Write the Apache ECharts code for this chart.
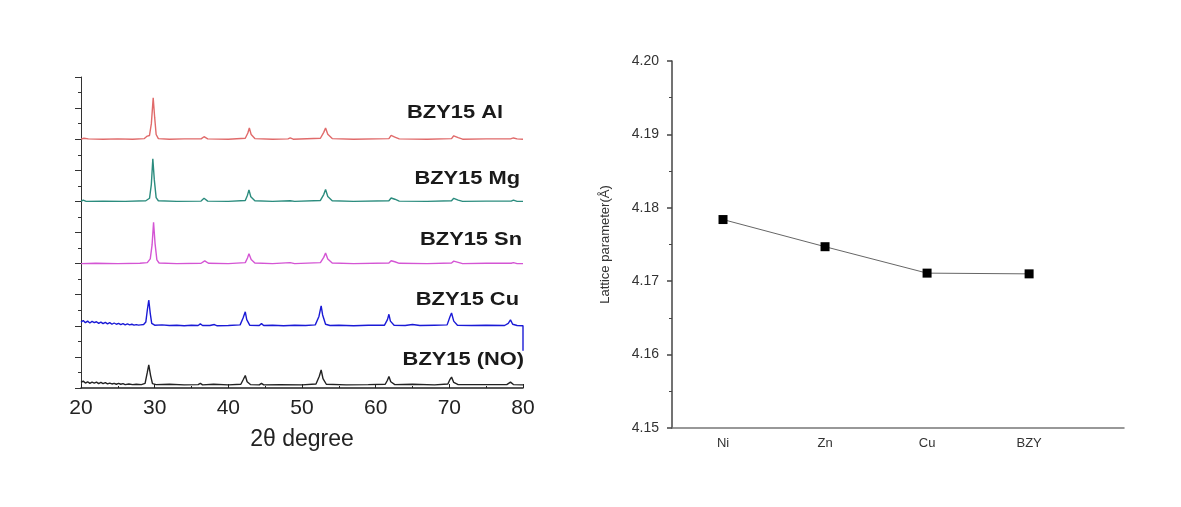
<!DOCTYPE html>
<html>
<head>
<meta charset="utf-8">
<script src="https://cdn.jsdelivr.net/npm/echarts@6/dist/echarts.min.js"></script>
<style>
  html, body { margin: 0; padding: 0; background: #fff; }
  #main { width: 1181px; height: 507px; }
</style>
</head>
<body>
<div id="main"></div>
<script>
// ---- XRD patterns (2theta, intensity above own baseline) ----
const sampleNames = ['BZY15 Al', 'BZY15 Mg', 'BZY15 Sn', 'BZY15 Cu', 'BZY15 (NO)']
const sampleColors = ['#e06a6a', '#2b8c7e', '#d455d4', '#1a1ad6', '#222222']
const offsets = [8, 6, 4, 2, 0.1]

const xrdAl = [[20,0],[20.4,0.03],[21,0.01],[23,0],[25,0.01],[27,0],[28.6,0.02],[29.0,0.1],[29.3,0.12],
  [29.55,0.5],[29.8,1.33],[30.0,0.7],[30.2,0.15],[30.5,0.02],[32,0],[34,0.01],[36.3,0.01],[36.7,0.08],[37.2,0.01],
  [40,0],[42.3,0.03],[42.65,0.2],[42.85,0.36],[43.1,0.15],[43.6,0.02],[46,0],[48.1,0.01],[48.4,0.04],[48.8,0],
  [52.5,0.03],[52.95,0.22],[53.2,0.36],[53.5,0.16],[54.1,0.02],[57,0],[61.8,0.02],[62.1,0.12],[62.3,0.16],[62.6,0.07],
  [63.2,0.01],[67,0],[70.3,0.02],[70.6,0.11],[70.8,0.14],[71.2,0.05],[71.8,0],[75,0.01],[78.3,0.01],[78.7,0.04],[79.2,0.01],[80,0]]

const xrdMg = [[20,0],[20.3,0.04],[20.7,0],[23,0.01],[26,0],[28.8,0.02],[29.3,0.1],[29.55,0.55],[29.75,1.37],
  [29.95,0.7],[30.2,0.12],[30.5,0.02],[33,0],[36.3,0.01],[36.7,0.1],[37.2,0.01],[40,0],[42.3,0.03],[42.6,0.2],
  [42.8,0.37],[43.05,0.15],[43.6,0.02],[46,0],[48.4,0.02],[49,0],[52.5,0.03],[52.95,0.22],[53.2,0.38],[53.5,0.16],
  [54.1,0.02],[57,0],[61.8,0.02],[62.1,0.11],[62.3,0.16],[62.6,0.07],[63.2,0.01],[67,0],[70.3,0.02],[70.6,0.1],
  [70.8,0.13],[71.2,0.04],[71.8,0],[75,0.01],[78.4,0.01],[78.7,0.04],[79.2,0],[80,0]]

const xrdSn = [[20,0],[22,0.01],[25,0],[28,0.01],[29.0,0.03],[29.4,0.15],[29.65,0.6],[29.85,1.33],[30.05,0.65],
  [30.3,0.12],[30.6,0.02],[33,0],[36.3,0.01],[36.8,0.09],[37.3,0.01],[40,0],[42.3,0.03],[42.6,0.18],[42.8,0.32],
  [43.1,0.13],[43.6,0.02],[46,0],[48.4,0.03],[49,0],[52.5,0.03],[52.95,0.2],[53.2,0.34],[53.5,0.15],[54.1,0.02],
  [57,0],[61.8,0.02],[62.1,0.09],[62.3,0.13],[62.6,0.06],[63.2,0.01],[67,0],[70.3,0.02],[70.6,0.08],[70.8,0.1],
  [71.2,0.04],[71.8,0],[75,0.01],[78.4,0.01],[78.7,0.03],[79.2,0],[80,0]]

const xrdCu = [[20,0.12],[20.3,0.17],[20.6,0.1],[20.9,0.15],[21.2,0.09],[21.5,0.14],[21.8,0.1],[22.1,0.13],
  [22.4,0.08],[22.7,0.12],[23,0.07],[23.3,0.11],[23.6,0.06],[23.9,0.1],[24.2,0.05],[24.5,0.09],[24.8,0.05],
  [25.1,0.08],[25.4,0.04],[25.7,0.07],[26,0.03],[26.3,0.06],[26.6,0.03],[26.9,0.05],[27.2,0.02],[27.5,0.04],
  [27.8,0.02],[28.1,0.03],[28.5,0.04],[28.8,0.12],[29.0,0.5],[29.2,0.83],[29.4,0.4],[29.6,0.08],[30,0.02],
  [31,0.03],[32,0.01],[33,0.02],[34,0],[35,0.02],[35.9,0.01],[36.2,0.06],[36.5,0.01],[37.5,0.01],[38.1,0.04],
  [38.5,0],[40,0.01],[41.6,0.03],[42.0,0.25],[42.3,0.45],[42.5,0.2],[42.9,0.02],[44.2,0.01],[44.5,0.07],[44.8,0.01],
  [46,0.02],[47.5,0],[49,0.02],[50.5,0.01],[51.8,0.03],[52.3,0.3],[52.6,0.64],[52.8,0.35],[53.2,0.05],[53.8,0.01],
  [55,0.02],[57,0],[59,0.02],[61.2,0.02],[61.6,0.2],[61.8,0.37],[62.0,0.15],[62.5,0.02],[64,0.01],[65,0.04],
  [66,0.01],[68,0.02],[69.7,0.03],[70.1,0.3],[70.3,0.41],[70.6,0.15],[71.1,0.02],[73,0.01],[75,0.02],[77.5,0.01],
  [78.0,0.08],[78.3,0.19],[78.6,0.05],[79.2,0.01],[80,0],[80,-0.8]]

const xrdNO = [[20,0.08],[20.3,0.12],[20.6,0.06],[20.9,0.1],[21.2,0.05],[21.5,0.09],[21.8,0.06],[22.1,0.09],
  [22.4,0.04],[22.7,0.08],[23,0.04],[23.3,0.07],[23.6,0.03],[23.9,0.06],[24.2,0.03],[24.5,0.05],[24.8,0.02],
  [25.1,0.05],[25.4,0.02],[25.7,0.04],[26,0.01],[26.5,0.03],[27,0.01],[27.5,0.02],[28.2,0.01],[28.7,0.05],
  [29.0,0.4],[29.2,0.64],[29.45,0.3],[29.7,0.04],[30.2,0.01],[32,0.02],[34,0],[35.9,0.01],[36.2,0.05],[36.5,0],
  [38,0.02],[40,0],[41.7,0.02],[42.05,0.18],[42.3,0.3],[42.55,0.1],[43,0.01],[44.2,0],[44.5,0.05],[44.8,0],
  [47,0.01],[50,0],[51.9,0.03],[52.35,0.28],[52.6,0.48],[52.85,0.2],[53.3,0.02],[56,0],[59,0.01],[61.3,0.02],
  [61.6,0.15],[61.8,0.27],[62.05,0.1],[62.6,0.01],[65,0.02],[68,0],[69.8,0.03],[70.1,0.18],[70.3,0.25],[70.6,0.08],
  [71.2,0.01],[74,0.01],[77.8,0.01],[78.3,0.09],[78.7,0.01],[80,0]]

const xrdPatterns = [xrdAl, xrdMg, xrdSn, xrdCu, xrdNO]
const twoThetaTicks = [20, 30, 40, 50, 60, 70, 80]

// ---- Lattice parameter ----
const elements = ['Ni', 'Zn', 'Cu', 'BZY']
const latticeValues = [4.1784, 4.1747, 4.1711, 4.1710]

const chart = echarts.init(document.getElementById('main'))

const xrdSeries = xrdPatterns.map((pts, i) => ({
  name: sampleNames[i],
  type: 'line',
  xAxisIndex: 0,
  yAxisIndex: 0,
  showSymbol: false,
  silent: true,
  lineStyle: { color: sampleColors[i], width: 1.4 },
  data: pts.map(p => [p[0], p[1] + offsets[i]])
}))

// label positions (right edge, vertical middle) in pixels
const labelPos = [[503, 113], [520, 179], [522, 240], [519, 300], [524, 360]]
const labelGraphics = sampleNames.map((n, i) => ({
  type: 'text',
  x: labelPos[i][0],
  y: labelPos[i][1],
  scaleX: 1.15,
  style: {
    text: n,
    fontFamily: 'Liberation Sans',
    fontWeight: 'bold',
    fontSize: 19,
    fill: '#1a1a1a',
    textAlign: 'right',
    textVerticalAlign: 'middle'
  }
}))

chart.setOption({
  backgroundColor: '#fff',
  animation: false,
  textStyle: { fontFamily: 'Liberation Sans' },
  grid: [
    { left: 81, top: 77, width: 442, height: 311 },
    { left: 672, top: 61, width: 452, height: 367 }
  ],
  xAxis: [
    {
      gridIndex: 0,
      type: 'value',
      min: 20,
      max: 80,
      interval: 10,
      name: '2\u03b8 degree',
      nameLocation: 'middle',
      nameGap: 40,
      nameTextStyle: { fontSize: 23, color: '#222' },
      axisLine: { lineStyle: { color: '#222', width: 1.5 } },
      axisTick: { inside: true, length: 4, lineStyle: { color: '#222' } },
      minorTick: { show: true, splitNumber: 2, length: 2, lineStyle: { color: '#222' } },
      splitLine: { show: false },
      axisLabel: { fontSize: 21, color: '#222', margin: 10, customValues: twoThetaTicks }
    },
    {
      gridIndex: 1,
      type: 'value',
      min: 0,
      max: 4.43,
      axisLine: { lineStyle: { color: '#777', width: 1.5 } },
      axisTick: { show: false },
      splitLine: { show: false },
      axisLabel: {
        fontSize: 13,
        color: '#333',
        margin: 9,
        customValues: [0.5, 1.5, 2.5, 3.5],
        formatter: v => elements[Math.round(v - 0.5)] || ''
      }
    }
  ],
  yAxis: [
    {
      gridIndex: 0,
      type: 'value',
      min: 0,
      max: 10,
      interval: 1,
      axisLine: { show: true, lineStyle: { color: '#333', width: 1 } },
      axisTick: { show: true, length: 6, lineStyle: { color: '#333' } },
      minorTick: { show: true, splitNumber: 2, length: 3, lineStyle: { color: '#333' } },
      axisLabel: { show: false },
      splitLine: { show: false }
    },
    {
      gridIndex: 1,
      type: 'value',
      min: 4.15,
      max: 4.20,
      interval: 0.01,
      name: 'Lattice parameter(\u00c5)',
      nameLocation: 'middle',
      nameGap: 60,
      nameTextStyle: { fontSize: 13, color: '#333' },
      axisLine: { show: true, lineStyle: { color: '#444', width: 1.5 } },
      axisTick: { show: true, length: 5, lineStyle: { color: '#444', width: 1.5 } },
      minorTick: { show: true, splitNumber: 2, length: 3, lineStyle: { color: '#444' } },
      axisLabel: { fontSize: 14, color: '#333', margin: 13, formatter: v => v.toFixed(2) },
      splitLine: { show: false }
    }
  ],
  series: xrdSeries.concat([{
    name: 'Lattice parameter',
    type: 'line',
    xAxisIndex: 1,
    yAxisIndex: 1,
    symbol: 'rect',
    symbolSize: 9,
    itemStyle: { color: '#000' },
    lineStyle: { color: '#666', width: 1 },
    data: latticeValues.map((v, i) => [i + 0.5, v])
  }]),
  graphic: labelGraphics
})
</script>
</body>
</html>
